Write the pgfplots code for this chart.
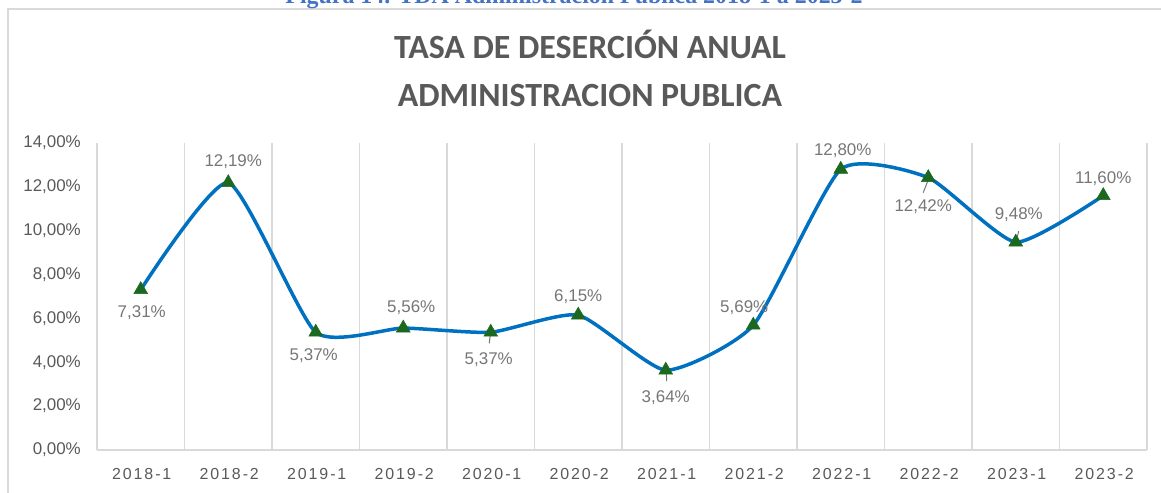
\documentclass[border=0pt]{standalone}
\usepackage{pgfplots}
\pgfplotsset{compat=1.18}
\usepackage{fontspec}
\setmainfont{Liberation Sans}
\newfontfamily\titlefont{Carlito}
\newfontfamily\capfont{Liberation Serif}
\newfontfamily\xfont{Liberation Sans}[LetterSpace=12]
\definecolor{gridgray}{RGB}{217,217,217}
\definecolor{txtgray}{RGB}{89,89,89}
\definecolor{lblgray}{RGB}{118,118,118}
\definecolor{lineblue}{RGB}{0,112,192}
\definecolor{mkgreen}{RGB}{28,104,32}
\definecolor{capblue}{RGB}{68,114,196}
\pgfplotstableread{
x y
0.5 7.31
1.5 12.19
2.5 5.37
3.5 5.56
4.5 5.37
5.5 6.15
6.5 3.64
7.5 5.69
8.5 12.80
9.5 12.42
10.5 9.48
11.5 11.60
}\datatable
\newcommand{\lbl}[5]{\node[anchor=center, inner sep=0pt, text=lblgray, font=\fontsize{17}{20}\selectfont] at ([shift={(#3bp,#4bp)}]axis cs:#1,#2) {#5};}
\begin{document}
\begin{tikzpicture}
\useasboundingbox (0,0) rectangle (1161bp,493bp);
\clip (0,0) rectangle (1161bp,493bp);
\draw[gridgray, line width=1.5bp] (8bp,-20bp) rectangle (1180bp,484bp);
\node[anchor=base, text=capblue, font=\capfont\bfseries\fontsize{24}{28}\selectfont] at (574bp,489.5bp) {Figura 14. TDA Administración Pública 2018-1 a 2023-2};
\node[anchor=base, text=txtgray, font=\titlefont\bfseries\fontsize{34}{40}\selectfont] at (590bp,434bp) {TASA DE DESERCIÓN ANUAL};
\node[anchor=base, text=txtgray, font=\titlefont\bfseries\fontsize{34}{40}\selectfont] at (590bp,386bp) {ADMINISTRACION PUBLICA};
\begin{axis}[
  at={(97bp,43bp)}, anchor=south west,
  scale only axis, width=1050bp, height=307bp,
  xmin=0, xmax=12, ymin=0, ymax=14,
  clip=false,
  axis line style={draw=none},
  xtick={0.5,1.5,...,11.5},
  xticklabels={2018-1,2018-2,2019-1,2019-2,2020-1,2020-2,2021-1,2021-2,2022-1,2022-2,2023-1,2023-2},
  minor xtick={0,1,...,12},
  xminorgrids=true,
  minor grid style={gridgray, line width=1.3bp},
  major tick length=0pt, minor tick length=0pt,
  ytick={0,2,...,14},
  yticklabels={{0,00\%},{2,00\%},{4,00\%},{6,00\%},{8,00\%},{10,00\%},{12,00\%},{14,00\%}},
  yticklabel style={font=\fontsize{17}{20}\selectfont, text=txtgray, anchor=east, inner sep=0pt, xshift=-16bp},
  xticklabel style={font=\xfont\fontsize{16}{19}\selectfont, text=txtgray, anchor=center, inner sep=0pt, yshift=-24bp, xshift=1bp},
]
\draw[gridgray, line width=1.5bp] (axis cs:0,0) -- (axis cs:12,0);
\draw[lblgray, line width=1bp] ([shift={(-0.5bp,-3bp)}]axis cs:4.5,5.37) -- ([shift={(-1.5bp,-11bp)}]axis cs:4.5,5.37);
\draw[lblgray, line width=1bp] ([shift={(0.5bp,-3bp)}]axis cs:6.5,3.64) -- ([shift={(1bp,-11bp)}]axis cs:6.5,3.64);
\draw[lblgray, line width=1bp] ([shift={(0bp,-2bp)}]axis cs:9.5,12.42) -- ([shift={(-5bp,-15bp)}]axis cs:9.5,12.42);
\draw[lblgray, line width=1bp] ([shift={(1bp,3bp)}]axis cs:10.5,9.48) -- ([shift={(3bp,11bp)}]axis cs:10.5,9.48);
\addplot[lineblue, line width=3.5bp, smooth, tension=0.333, mark=triangle*, mark size=8bp,
  mark options={draw=mkgreen, fill=mkgreen, line width=0.5bp, solid}]
  table[x=x, y=y] {\datatable};
\lbl{0.5}{7.31}{1}{-23}{7,31\%}
\lbl{1.5}{12.19}{5}{21}{12,19\%}
\lbl{2.5}{5.37}{-2}{-23}{5,37\%}
\lbl{3.5}{5.56}{8}{20}{5,56\%}
\lbl{4.5}{5.37}{-2}{-27}{5,37\%}
\lbl{5.5}{6.15}{0}{18}{6,15\%}
\lbl{6.5}{3.64}{0}{-27}{3,64\%}
\lbl{7.5}{5.69}{-9}{17.5}{5,69\%}
\lbl{8.5}{12.80}{2}{19}{12,80\%}
\lbl{9.5}{12.42}{-5}{-29}{12,42\%}
\lbl{10.5}{9.48}{3}{27}{9,48\%}
\lbl{11.5}{11.60}{0}{17}{11,60\%}
\end{axis}
\end{tikzpicture}
\end{document}
